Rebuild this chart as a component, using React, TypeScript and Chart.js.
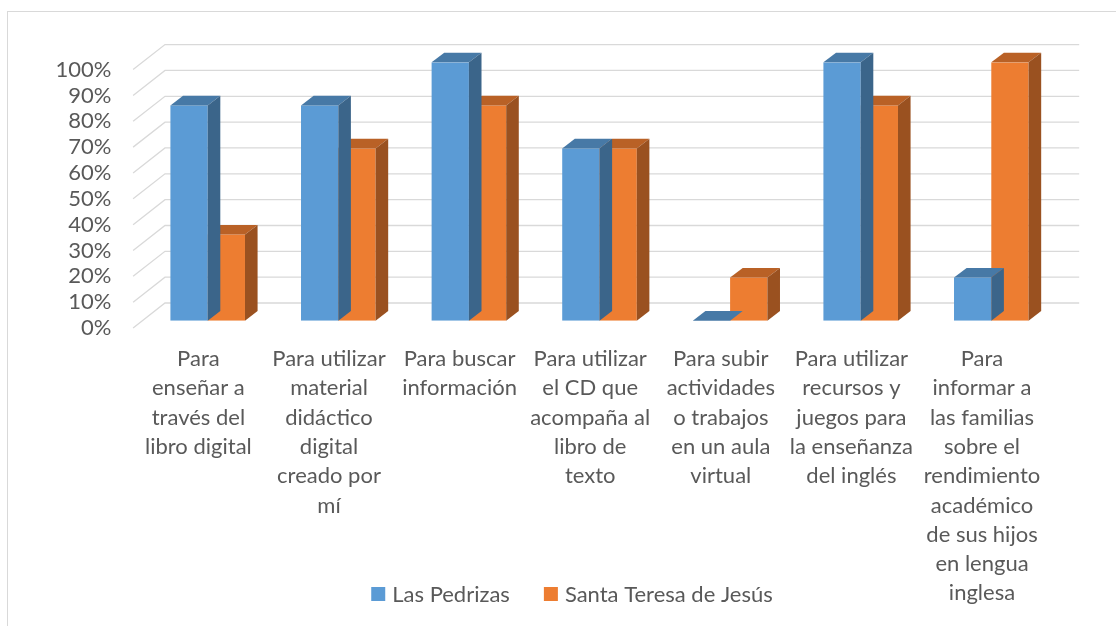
import React, { useEffect, useRef } from "react";
import { Chart, registerables } from "chart.js";

Chart.register(...registerables);

// ---------- data ----------
const categories: string[][] = [
  ["Para", "enseñar a", "través del", "libro digital"],
  ["Para utilizar", "material", "didáctico", "digital", "creado por", "mí"],
  ["Para buscar", "información"],
  ["Para utilizar", "el CD que", "acompaña al", "libro de", "texto"],
  ["Para subir", "actividades", "o trabajos", "en un aula", "virtual"],
  ["Para utilizar", "recursos y", "juegos para", "la enseñanza", "del inglés"],
  [
    "Para",
    "informar a",
    "las familias",
    "sobre el",
    "rendimiento",
    "académico",
    "de sus hijos",
    "en lengua",
    "inglesa",
  ],
];

const seriesNames = ["Las Pedrizas", "Santa Teresa de Jesús"];
const lasPedrizas = [83.33, 83.33, 100, 66.67, 0, 100, 16.67];
const santaTeresa = [33.33, 66.67, 83.33, 66.67, 16.67, 83.33, 100];

const yMin = 0;
const yMax = 100;
const yStep = 10;

// ---------- style ----------
const FONT = "Lato, 'Open Sans', sans-serif";
const FS = 22;
const LINE_H = 29.3;
const TEXT = "#595959";
const GRID = "#d9d9d9";
const FRONT = ["#5B9BD5", "#ED7D31"];
const TOP = ["#4779A6", "#B96126"];
const SIDE = ["#3B658A", "#9A5120"];
const BAR_DEPTH = { dx: 12.6, dy: -9.6 };
const FLOOR_FRONT = { dx: -9.3, dy: 7.3 };
const BACK_WALL = { dx: 22.6, dy: -17.7 };

const W = 1116;
const H = 626;
const AREA = { left: 142.4, right: 1056.6, top: 62.3, bottom: 320.7 };

const threeDPlugin = {
  id: "threeD",
  beforeDatasetsDraw(chart: any) {
    const { ctx, chartArea: a } = chart;
    const y = chart.scales.y;
    ctx.save();
    ctx.strokeStyle = GRID;
    ctx.lineWidth = 1.3;
    y.ticks.forEach((t: any) => {
      const py = y.getPixelForValue(t.value);
      ctx.beginPath();
      ctx.moveTo(a.left + FLOOR_FRONT.dx, py + FLOOR_FRONT.dy);
      ctx.lineTo(a.left + BACK_WALL.dx, py + BACK_WALL.dy);
      ctx.lineTo(a.right + BACK_WALL.dx, py + BACK_WALL.dy);
      ctx.stroke();
    });
    ctx.restore();
  },
  afterDatasetDraw(chart: any, args: any) {
    const i = args.index;
    const meta = chart.getDatasetMeta(i);
    const ctx = chart.ctx;
    const { dx, dy } = BAR_DEPTH;
    ctx.save();
    meta.data.forEach((bar: any) => {
      const { x, y, base, width } = bar.getProps(["x", "y", "base", "width"], true);
      const l = x - width / 2;
      const r = x + width / 2;
      ctx.fillStyle = TOP[i];
      ctx.beginPath();
      ctx.moveTo(l, y);
      ctx.lineTo(r, y);
      ctx.lineTo(r + dx, y + dy);
      ctx.lineTo(l + dx, y + dy);
      ctx.closePath();
      ctx.fill();
      ctx.fillStyle = SIDE[i];
      ctx.beginPath();
      ctx.moveTo(r, y);
      ctx.lineTo(r + dx, y + dy);
      ctx.lineTo(r + dx, base + dy);
      ctx.lineTo(r, base);
      ctx.closePath();
      ctx.fill();
    });
    ctx.restore();
  },
  afterDraw(chart: any) {
    const ctx = chart.ctx;
    ctx.save();
    ctx.font = `${FS}px ${FONT}`;
    ctx.textBaseline = "middle";
    ctx.textAlign = "left";
    const box = 14;
    const gapText = 7;
    const gapItem = 34;
    const items = chart.data.datasets.map((d: any) => ({
      label: d.label as string,
      color: d.backgroundColor as string,
      w: ctx.measureText(d.label).width,
    }));
    const total =
      items.reduce((s: number, it: any) => s + box + gapText + it.w, 0) +
      gapItem * (items.length - 1);
    let x = 572 - total / 2;
    const cy = 594;
    items.forEach((it: any) => {
      ctx.fillStyle = it.color;
      ctx.fillRect(x, cy - box / 2, box, box);
      x += box + gapText;
      ctx.fillStyle = TEXT;
      ctx.fillText(it.label, x, cy + 1);
      x += it.w + gapItem;
    });
    ctx.restore();
  },
};

export default function App() {
  const ref = useRef<HTMLCanvasElement | null>(null);

  useEffect(() => {
    if (!ref.current) return;
    const chart = new Chart(ref.current, {
      type: "bar",
      data: {
        labels: categories,
        datasets: [
          {
            label: seriesNames[0],
            data: lasPedrizas,
            backgroundColor: FRONT[0],
            borderWidth: 0,
            barPercentage: 1,
            categoryPercentage: 0.571,
          },
          {
            label: seriesNames[1],
            data: santaTeresa,
            backgroundColor: FRONT[1],
            borderWidth: 0,
            barPercentage: 1,
            categoryPercentage: 0.571,
          },
        ],
      },
      options: {
        responsive: false,
        animation: false,
        layout: {
          padding: { left: 0, right: W - AREA.right, top: AREA.top, bottom: 0 },
        },
        plugins: {
          legend: { display: false },
          tooltip: { enabled: false },
        },
        scales: {
          x: {
            grid: { display: false, drawTicks: false },
            border: { display: false },
            ticks: {
              autoSkip: false,
              maxRotation: 0,
              minRotation: 0,
              padding: 23.6,
              labelOffset: FLOOR_FRONT.dx,
              color: TEXT,
              font: { family: FONT, size: FS, lineHeight: LINE_H / FS },
            },
            afterFit: (s: any) => {
              s.height = H - AREA.bottom;
            },
          },
          y: {
            min: yMin,
            max: yMax,
            grid: { display: false, drawTicks: false },
            border: { display: false },
            ticks: {
              stepSize: yStep,
              autoSkip: false,
              maxTicksLimit: 20,
              padding: 31,
              labelOffset: FLOOR_FRONT.dy,
              color: TEXT,
              font: { family: FONT, size: FS, lineHeight: 1 },
              callback: (v: any) => `${v}%`,
            },
            afterFit: (s: any) => {
              s.width = AREA.left;
            },
          },
        },
      },
      plugins: [threeDPlugin],
    });
    return () => chart.destroy();
  }, []);

  return (
    <div
      style={{
        position: "fixed",
        left: 0,
        top: 0,
        width: W,
        height: H,
        overflow: "hidden",
        background: "#fff",
      }}
    >
      <canvas ref={ref} width={W} height={H} style={{ display: "block" }} />
      <div
        style={{
          position: "absolute",
          left: 7,
          top: 11,
          width: W + 20,
          height: H + 20,
          border: "1.5px solid #d9d9d9",
          pointerEvents: "none",
        }}
      />
    </div>
  );
}
